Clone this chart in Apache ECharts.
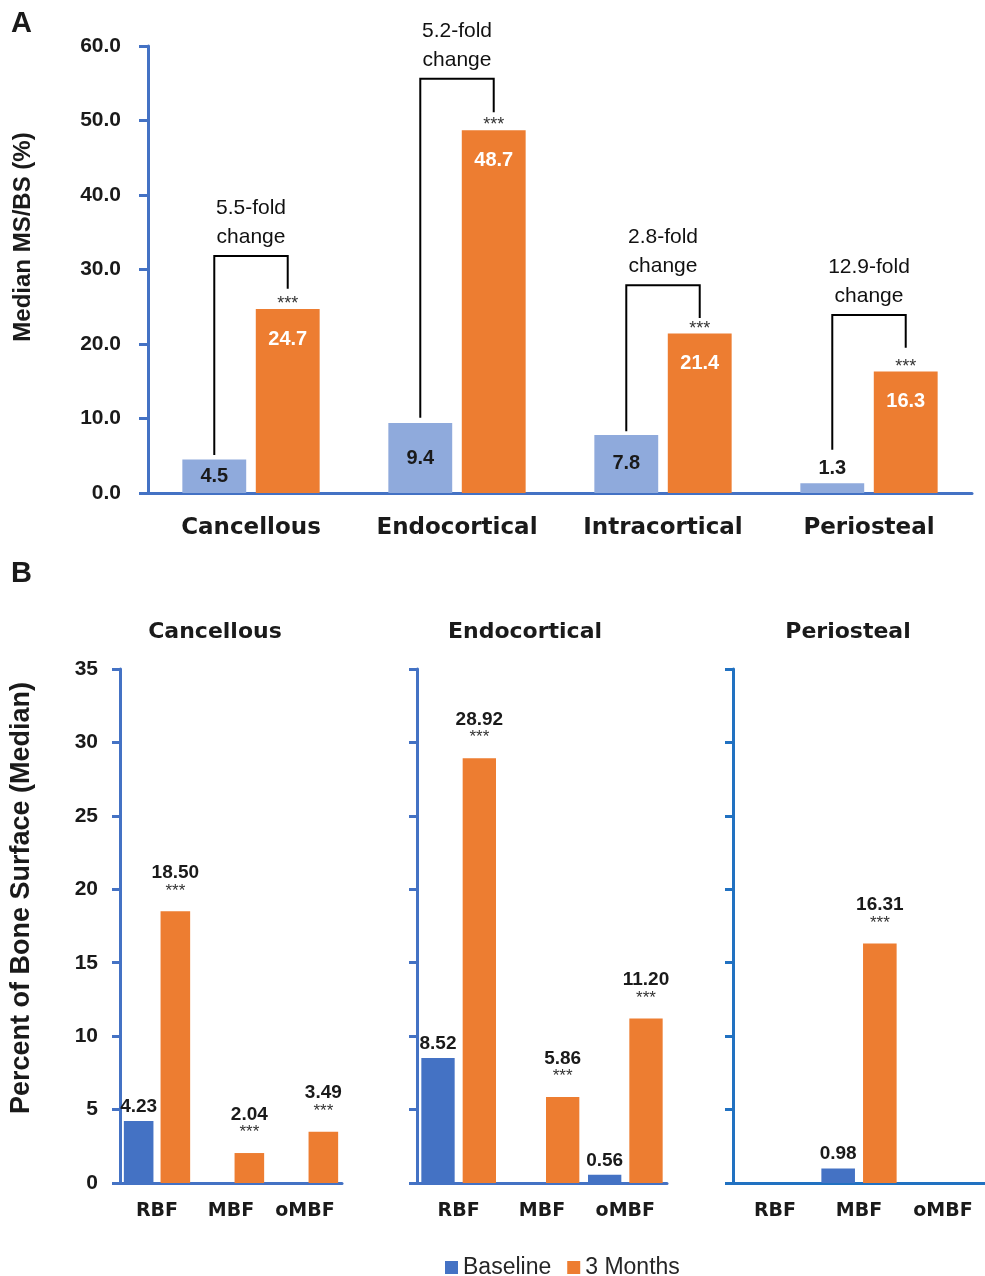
<!DOCTYPE html>
<html>
<head>
<meta charset="utf-8">
<script src="https://cdn.jsdelivr.net/npm/echarts/dist/echarts.min.js"></script>
<style>
html,body{margin:0;padding:0;background:#fff;}
#chart{width:985px;height:1276px;}
</style>
</head>
<body>
<div id="chart"></div>
<script>
// ---------- Panel A data ----------
const catsA = ['Cancellous', 'Endocortical', 'Intracortical', 'Periosteal'];
const baselineA = [4.5, 9.4, 7.8, 1.3];
const monthsA = [24.7, 48.7, 21.4, 16.3];
const foldA = ['5.5-fold', '5.2-fold', '2.8-fold', '12.9-fold'];
// bracket levels (data units): top, left end, right end
const bracketTopA = [31.8, 55.6, 27.9, 23.9];
const bracketLeftA = [5.1, 10.1, 8.3, 5.8];
const bracketRightA = [27.4, 51.1, 23.5, 19.5];
const ticksA = [0, 10, 20, 30, 40, 50, 60];

// ---------- Panel B data ----------
const catsB = ['RBF', 'MBF', 'oMBF'];
const panelsB = ['Cancellous', 'Endocortical', 'Periosteal'];
const baselineB = [
  [4.23, null, null],
  [8.52, null, 0.56],
  [null, 0.98, null]
];
const monthsB = [
  [18.50, 2.04, 3.49],
  [28.92, 5.86, 11.20],
  [null, 16.31, null]
];
const ticksB = [0, 5, 10, 15, 20, 25, 30, 35];

// ---------- styles ----------
const cBaseA = '#8FAADC', cOrange = '#ED7D31', cBaseB = '#4472C4';
const axisBlue = '#4472C4', axisBlue2 = '#2171C1';
const sans = '"Liberation Sans", Arial, sans-serif';
const deja = '"DejaVu Sans", sans-serif';
const txt = '#1a1a1a';

const chart = echarts.init(document.getElementById('chart'), null, {renderer: 'canvas'});

const barWA = 0.31, gapA = 0.15;

const grids = [
  {left: 148, right: 13, top: 46, bottom: 783},
  {left: 120, width: 222, top: 669, bottom: 93},
  {left: 417, width: 250, top: 669, bottom: 93},
  {left: 733, width: 256, top: 669, bottom: 93}
];

const xAxes = [{
  gridIndex: 0, type: 'category', data: catsA,
  axisLine: {lineStyle: {color: axisBlue, width: 3}},
  axisTick: {length: 8, lineStyle: {color: axisBlue, width: 3}},
  axisLabel: {interval: 0, margin: 24, fontFamily: deja, fontWeight: 'bold', fontSize: 23, color: txt}
}];
const yAxes = [{
  gridIndex: 0, type: 'value', min: ticksA[0], max: ticksA[ticksA.length - 1], interval: 10,
  axisLine: {show: true, lineStyle: {color: axisBlue, width: 3}},
  axisTick: {show: true, length: 9, lineStyle: {color: axisBlue, width: 3}},
  splitLine: {show: false},
  axisLabel: {margin: 27, formatter: v => v.toFixed(1), fontFamily: sans, fontWeight: 'bold', fontSize: 21, color: txt}
}];

panelsB.forEach((p, k) => {
  const col = k === 2 ? axisBlue2 : axisBlue;
  xAxes.push({
    gridIndex: k + 1, type: 'category', data: catsB,
    axisLine: {lineStyle: {color: col, width: 3}},
    axisTick: {length: 8, lineStyle: {color: col, width: 3}},
    axisLabel: {interval: 0, margin: 19, fontFamily: deja, fontWeight: 'bold', fontSize: 19, color: txt}
  });
  yAxes.push({
    gridIndex: k + 1, type: 'value', min: ticksB[0], max: ticksB[ticksB.length - 1], interval: 5,
    axisLine: {show: true, lineStyle: {color: col, width: 3}},
    axisTick: {show: true, length: 8, lineStyle: {color: col, width: 3}},
    splitLine: {show: false},
    axisLabel: {show: k === 0, margin: 22, fontFamily: sans, fontWeight: 'bold', fontSize: 21, color: txt}
  });
});

const series = [
  {
    type: 'bar', name: 'Baseline A', xAxisIndex: 0, yAxisIndex: 0,
    barWidth: (barWA * 100) + '%', barGap: (gapA * 100) + '%',
    itemStyle: {color: cBaseA},
    label: {show: true, position: 'inside', fontFamily: sans, fontWeight: 'bold', fontSize: 20, color: txt},
    data: baselineA.map(v => v < 3 ? {value: v, label: {position: 'top', distance: 5}} : v)
  },
  {
    type: 'bar', name: '3 Months A', xAxisIndex: 0, yAxisIndex: 0,
    barWidth: (barWA * 100) + '%', barGap: (gapA * 100) + '%',
    itemStyle: {color: cOrange},
    label: {show: true, position: 'insideTop', distance: 20, fontFamily: sans, fontWeight: 'bold', fontSize: 20, color: '#fff'},
    data: monthsA
  },
  {
    type: 'custom', xAxisIndex: 0, yAxisIndex: 0, silent: true, z: 5,
    data: catsA.map((c, i) => [i, bracketTopA[i], bracketLeftA[i], bracketRightA[i], monthsA[i]]),
    encode: {x: 0, y: [1, 2, 3, 4]},
    renderItem: function (params, api) {
      const i = api.value(0);
      const band = api.size([1, 0])[0];
      const off = band * barWA * (1 + gapA) / 2;
      const c = api.coord([i, api.value(1)]);
      const xl = c[0] - off, xr = c[0] + off;
      const yTop = c[1];
      const yL = api.coord([i, api.value(2)])[1];
      const yR = api.coord([i, api.value(3)])[1];
      const yBar = api.coord([i, api.value(4)])[1];
      return {
        type: 'group',
        children: [
          {type: 'polyline', shape: {points: [[xl, yL], [xl, yTop], [xr, yTop], [xr, yR]]},
           style: {stroke: '#000', lineWidth: 2, fill: null}},
          {type: 'text', style: {text: foldA[params.dataIndex] + '\nchange', x: (xl + xr) / 2, y: yTop - 4,
            align: 'center', verticalAlign: 'bottom', textAlign: 'center', textVerticalAlign: 'bottom',
            font: '21px ' + sans, lineHeight: 29, fill: '#111'}},
          {type: 'text', style: {text: '***', x: xr, y: yBar - 5,
            align: 'center', verticalAlign: 'middle', textAlign: 'center', textVerticalAlign: 'middle',
            font: '18px ' + sans, fill: '#333'}}
        ]
      };
    }
  }
];

panelsB.forEach((p, k) => {
  series.push({
    type: 'bar', name: 'Baseline', xAxisIndex: k + 1, yAxisIndex: k + 1,
    barWidth: '40%', barGap: '24%',
    itemStyle: {color: cBaseB},
    label: {show: true, position: 'top', distance: 5, formatter: q => q.value.toFixed(2),
      fontFamily: sans, fontWeight: 'bold', fontSize: 19, color: txt},
    data: baselineB[k]
  });
  series.push({
    type: 'bar', name: '3 Months', xAxisIndex: k + 1, yAxisIndex: k + 1,
    barWidth: '40%', barGap: '24%',
    itemStyle: {color: cOrange},
    label: {show: true, position: 'top', distance: 12,
      formatter: q => '{v|' + q.value.toFixed(2) + '}\n{s|***}',
      rich: {
        v: {fontFamily: sans, fontWeight: 'bold', fontSize: 19, lineHeight: 19, color: txt, align: 'center'},
        s: {fontFamily: sans, fontSize: 17, lineHeight: 17, color: '#333', align: 'center'}
      }},
    data: monthsB[k]
  });
});

const subX = [215, 525, 848];
const graphic = [
  {type: 'text', x: 11, y: 9, style: {text: 'A', font: 'bold 29px ' + sans, fill: txt}},
  {type: 'text', x: 11, y: 559, style: {text: 'B', font: 'bold 29px ' + sans, fill: txt}},
  {type: 'text', x: 23, y: 237, rotation: Math.PI / 2,
   style: {text: 'Median MS/BS (%)', font: 'bold 24px ' + sans, fill: txt,
     align: 'center', verticalAlign: 'middle', textAlign: 'center', textVerticalAlign: 'middle'}},
  {type: 'text', x: 22, y: 898, rotation: Math.PI / 2,
   style: {text: 'Percent of Bone Surface (Median)', font: 'bold 27px ' + sans, fill: txt,
     align: 'center', verticalAlign: 'middle', textAlign: 'center', textVerticalAlign: 'middle'}}
];
panelsB.forEach((p, k) => {
  graphic.push({type: 'text', x: subX[k], y: 632,
    style: {text: p, font: 'bold 22px ' + deja, fill: txt,
      align: 'center', verticalAlign: 'middle', textAlign: 'center', textVerticalAlign: 'middle'}});
});

chart.setOption({
  animation: false,
  backgroundColor: '#fff',
  grid: grids,
  xAxis: xAxes,
  yAxis: yAxes,
  series: series,
  graphic: graphic,
  legend: {
    data: ['Baseline', '3 Months'],
    left: 440, top: 1251,
    icon: 'rect', itemWidth: 13, itemHeight: 13, itemGap: 16,
    textStyle: {fontFamily: sans, fontSize: 23, color: '#262626'}
  }
});
</script>
</body>
</html>
